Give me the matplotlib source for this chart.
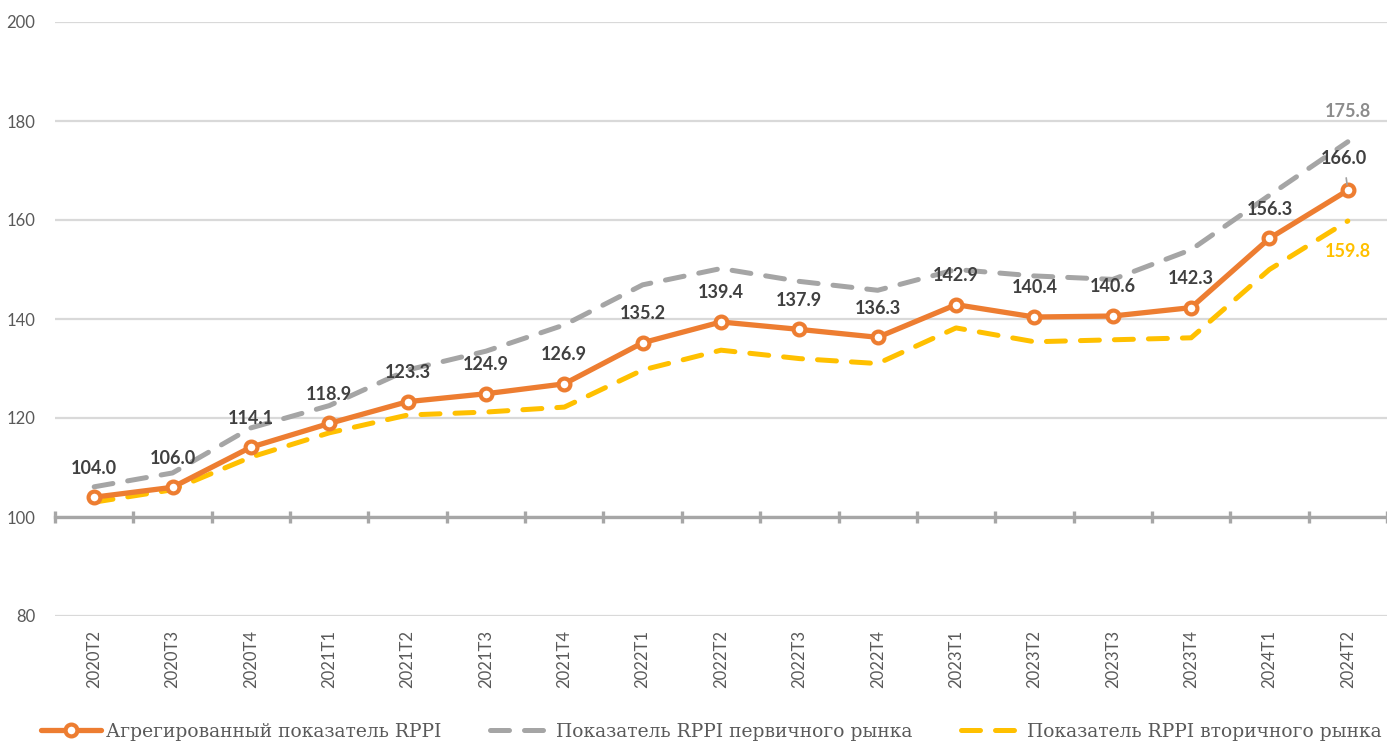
import matplotlib.pyplot as plt
import numpy as np

quarters = ['2020T2', '2020T3', '2020T4', '2021T1', '2021T2', '2021T3', '2021T4',
            '2022T1', '2022T2', '2022T3', '2022T4', '2023T1', '2023T2', '2023T3',
            '2023T4', '2024T1', '2024T2']
aggregate = [104.0, 106.0, 114.1, 118.9, 123.3, 124.9, 126.9, 135.2, 139.4, 137.9,
             136.3, 142.9, 140.4, 140.6, 142.3, 156.3, 166.0]
primary = [106.1, 108.9, 118.0, 122.5, 129.7, 133.5, 138.8, 146.9, 150.2, 147.6,
           145.8, 150.0, 148.7, 148.0, 154.0, 165.0, 175.8]
secondary = [103.0, 105.5, 112.1, 117.0, 120.6, 121.2, 122.2, 129.7, 133.7, 132.0,
             131.0, 138.2, 135.4, 135.8, 136.2, 150.0, 159.8]

orange = '#ED7D31'
grey = '#A5A5A5'
yellow = '#FFC000'
text_col = '#404040'
tick_col = '#595959'

fig = plt.figure(figsize=(13.87, 7.45), dpi=100)
ax = fig.add_axes([55 / 1387, 1 - 616 / 745, 1 - 55 / 1387, (616 - 22) / 745])

x = np.arange(len(quarters))

# dashed series
ax.plot(x, primary, color=grey, lw=3.6, dashes=(3.8, 3.0), dash_capstyle='round',
        label='Показатель RPPI первичного рынка', zorder=3)
ax.plot(x, secondary, color=yellow, lw=3.6, dashes=(3.8, 3.0), dash_capstyle='round',
        label='Показатель RPPI вторичного рынка', zorder=3)
ax.plot(x, aggregate, color=orange, lw=3.8, marker='o', ms=8.5, mfc='white',
        mec=orange, mew=3.0, solid_capstyle='round',
        label='Агрегированный показатель RPPI', zorder=4)

# data labels
lab_kw = dict(textcoords='offset points', ha='center', va='center', fontsize=13,
              family='Lato', weight='bold')
for i, v in enumerate(aggregate[:-1]):
    ax.annotate(f'{v:.1f}', (x[i], v), xytext=(0, 21), color=text_col, zorder=5, **lab_kw)
ax.annotate(f'{aggregate[-1]:.1f}', (x[-1], aggregate[-1]), xytext=(-3, 23),
            color=text_col, zorder=5,
            arrowprops=dict(arrowstyle='-', color='#A0A0A0', lw=1.2,
                            shrinkA=6, shrinkB=4), **lab_kw)
ax.annotate(f'{primary[-1]:.1f}', (x[-1], primary[-1]), xytext=(0, 22),
            color='#8C8C8C', **lab_kw)
ax.annotate(f'{secondary[-1]:.1f}', (x[-1], secondary[-1]), xytext=(0, -22),
            color=yellow, **lab_kw)

# axes styling
ax.set_xlim(-0.5, 16.42)
ax.set_ylim(80, 200)
ax.set_yticks(range(80, 201, 20))
ax.yaxis.grid(True, color='#D9D9D9', lw=1.6)
ax.set_axisbelow(True)
for s in ['left', 'right', 'top']:
    ax.spines[s].set_visible(False)
ax.spines['bottom'].set_position(('data', 100))
ax.spines['bottom'].set_color('#A6A6A6')
ax.spines['bottom'].set_linewidth(2.4)
ax.spines['bottom'].set_zorder(2)
ax.set_xticks(np.arange(-0.5, 16.6, 1))
ax.tick_params(axis='x', direction='inout', length=8, width=2.4, color='#A6A6A6',
               labelbottom=False)
ax.tick_params(axis='y', length=0, pad=14, labelsize=12, labelcolor=tick_col)
for lab in ax.get_yticklabels():
    lab.set_family('Lato')

# quarter labels at the bottom
sec = ax.secondary_xaxis('bottom')
sec.set_xticks(x)
sec.set_xticklabels(quarters, rotation=90, fontsize=12, color=tick_col, family='Lato')
sec.tick_params(length=0, pad=10)
sec.spines['bottom'].set_visible(False)

h, l = ax.get_legend_handles_labels()
order = [2, 0, 1]
fig.legend([h[k] for k in order], [l[k] for k in order], loc='center',
           bbox_to_anchor=(711 / 1387, 0.018), ncol=3, frameon=False,
           handlelength=3.2, columnspacing=2.6, handletextpad=0.3, borderpad=0,
           prop={'family': 'DejaVu Serif', 'size': 13.5}, labelcolor='#595959')

fig.savefig('out.png', dpi=100)
